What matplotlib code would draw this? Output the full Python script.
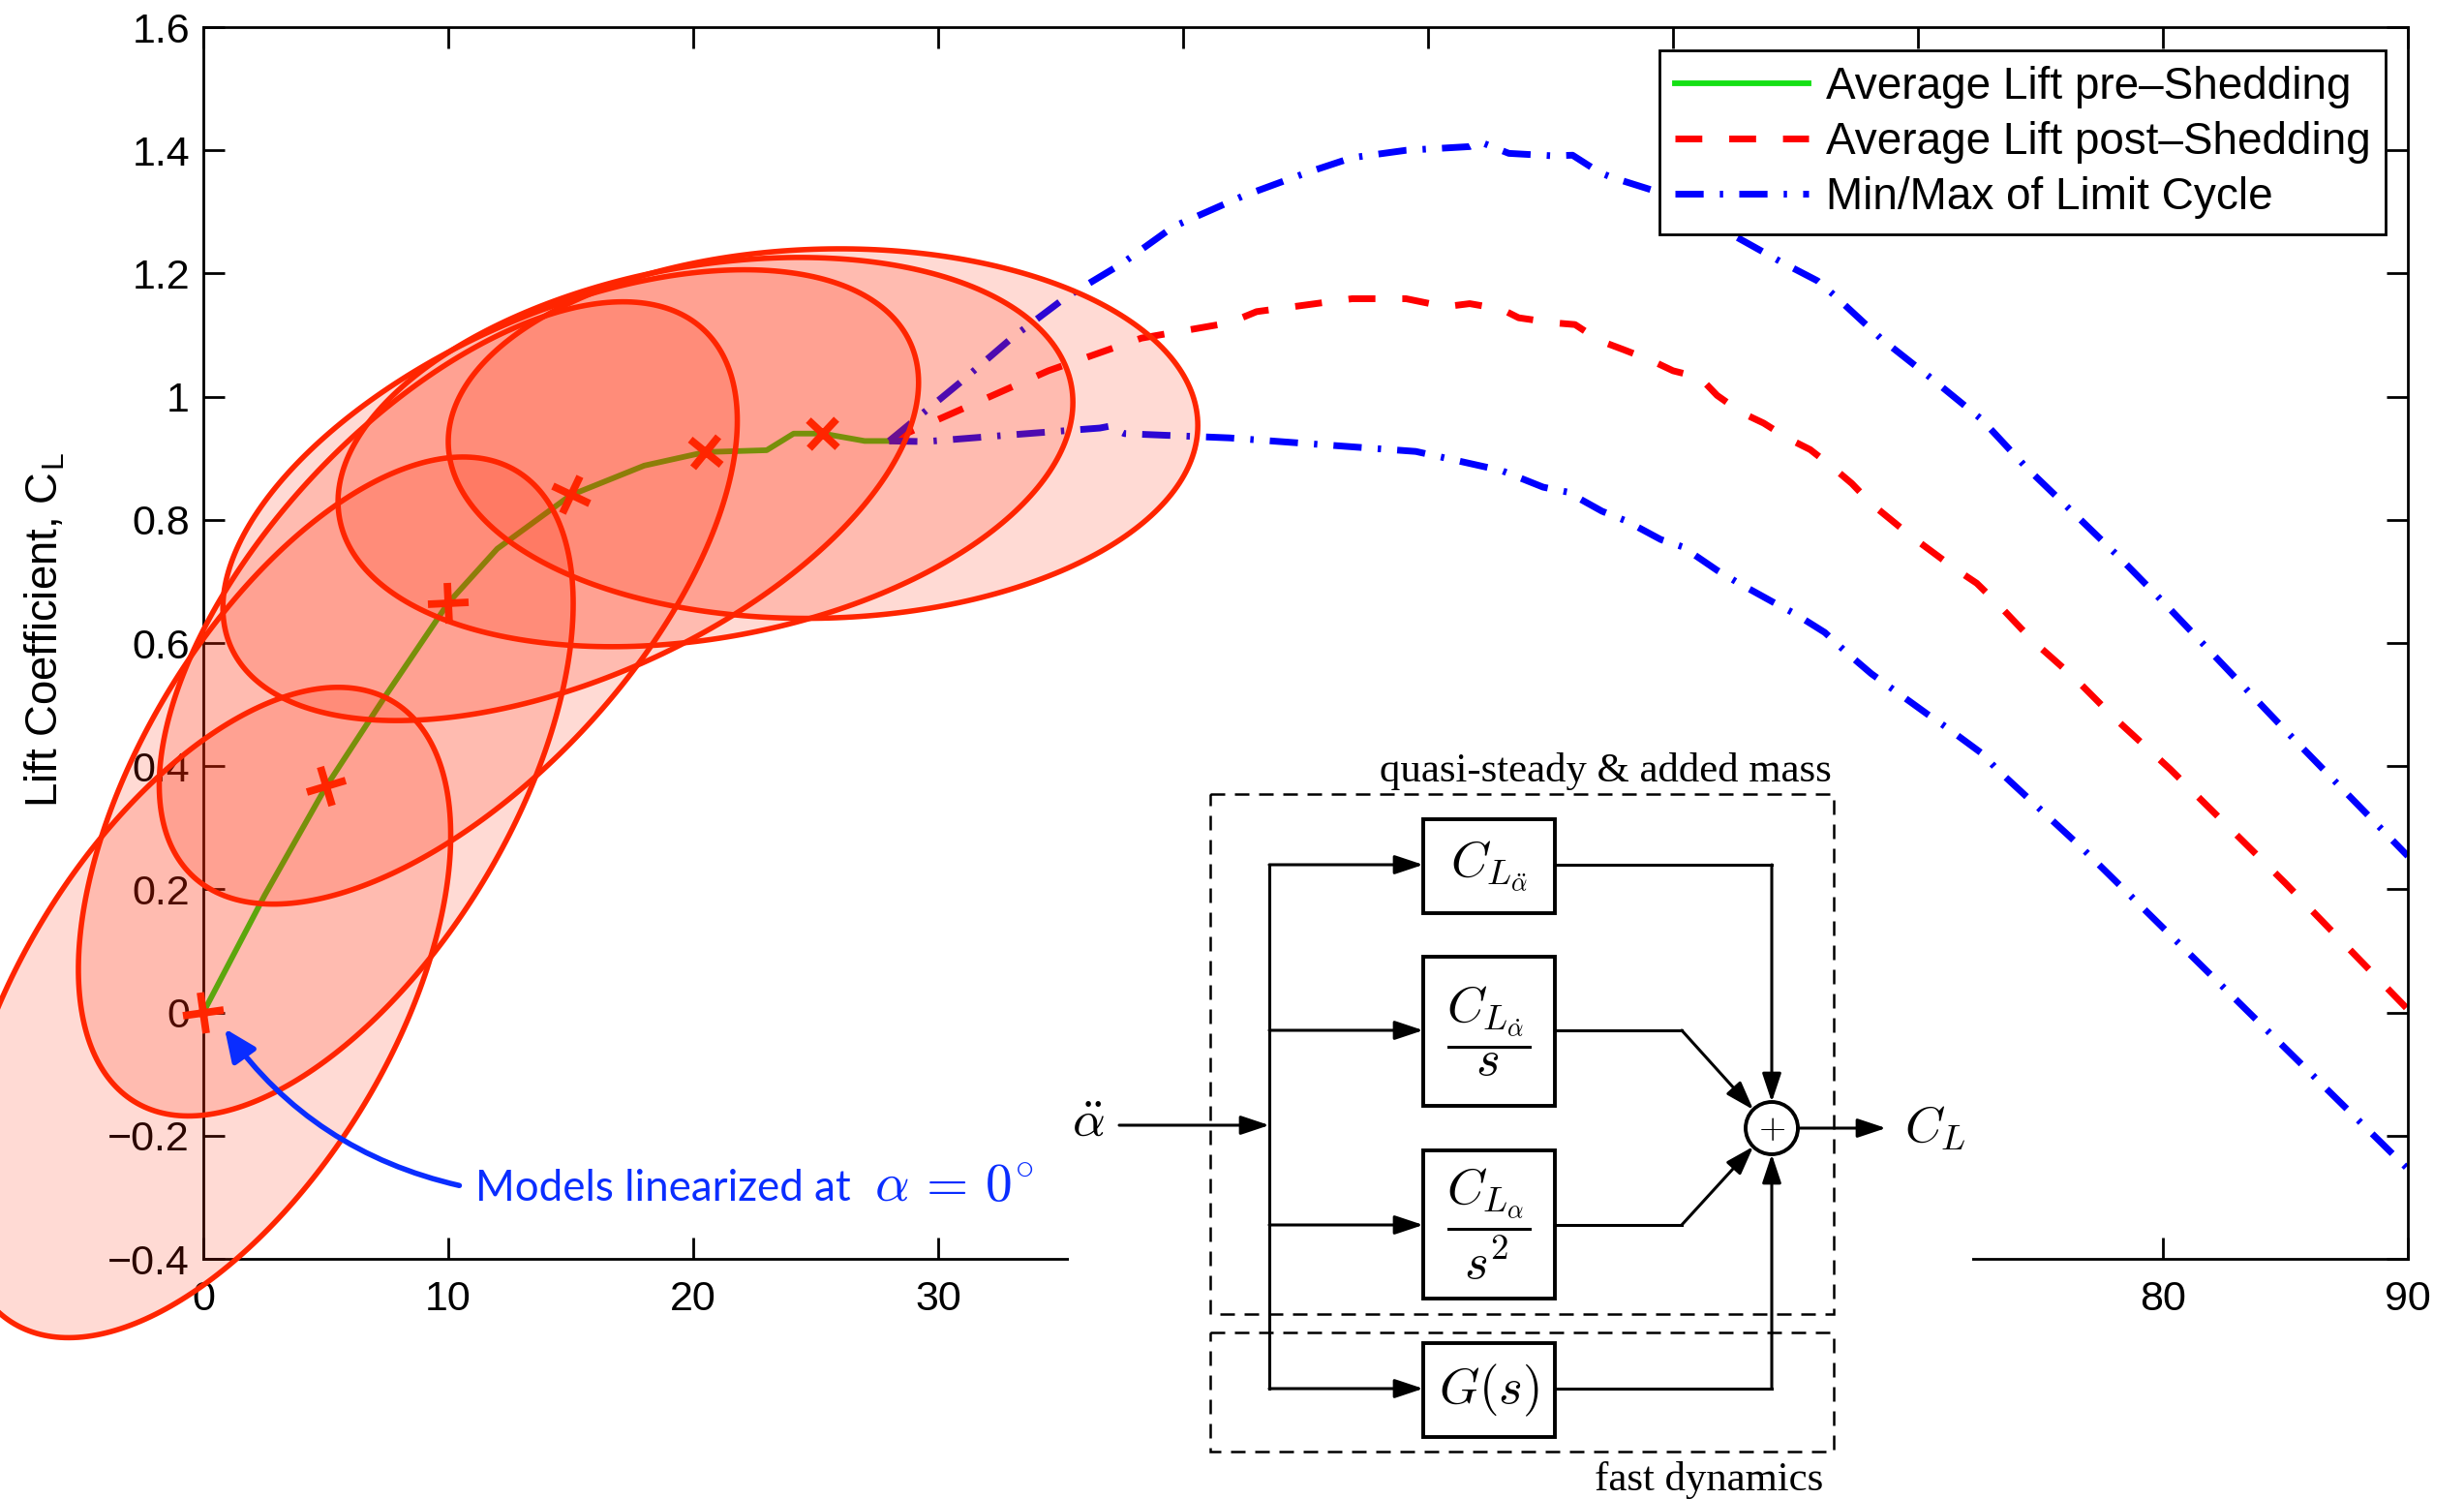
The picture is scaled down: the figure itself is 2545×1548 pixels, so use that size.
import numpy as np
import matplotlib
matplotlib.use("Agg")
import matplotlib.pyplot as plt
from matplotlib.markers import MarkerStyle
from matplotlib.transforms import Affine2D
from matplotlib.patches import Polygon, Rectangle, Circle

plt.rcParams['font.family'] = ['Liberation Sans', 'DejaVu Sans']
plt.rcParams['mathtext.fontset'] = 'cm'

# --- DATA ---
# average lift before shedding (green)
alpha_pre = [0, 2.5, 5, 7.4, 10, 12, 15, 18, 20.5, 23, 24.1, 25.3, 27, 28]
cl_pre = [0, 0.19, 0.366, 0.512, 0.665, 0.753, 0.84, 0.888, 0.91, 0.913, 0.94, 0.94, 0.928, 0.928]

# average lift after shedding (red dashed)
alpha_post = [28, 30.75, 34.5, 38.3, 41.9, 43, 46.9, 49.1, 50.7, 51.7, 53.0, 53.7, 55.1, 56.0,
              57.0, 58.0, 59.1, 60.0, 61.1, 61.8, 62.8, 63.7, 64.7, 65.6, 66.5, 67.3, 68.1,
              69.7, 71.5, 72.4, 73.2, 74.7, 76.4, 78.0, 80.3, 85, 90]
cl_post = [0.928, 0.976, 1.042, 1.095, 1.12, 1.138, 1.159, 1.159, 1.146, 1.151, 1.142, 1.128, 1.120,
           1.117, 1.091, 1.076, 1.059, 1.042, 1.031, 1.002, 0.974, 0.957, 0.932, 0.914, 0.886,
           0.859, 0.826, 0.774, 0.721, 0.697, 0.666, 0.603, 0.543, 0.479, 0.395, 0.21, 0.005]

# limit cycle max / min (blue dash-dot)
alpha_max = [28, 30.9, 33.0, 35.2, 37.5, 39.6, 42.4, 45, 46.9, 49.1, 51.7, 52.1, 53.3, 55.1, 55.9,
             57.0, 57.5, 59.1, 62.1, 64.4, 65.9, 66.6, 68.5, 70.6, 72.6, 74.4, 76.2, 78.2, 80.1,
             85.1, 90]
cl_max = [0.928, 1.023, 1.095, 1.161, 1.216, 1.276, 1.325, 1.363, 1.388, 1.40, 1.406, 1.414, 1.395,
          1.391, 1.392, 1.364, 1.356, 1.336, 1.270, 1.219, 1.188, 1.164, 1.094, 1.028, 0.963,
          0.886, 0.817, 0.740, 0.663, 0.454, 0.254]
alpha_min = [28, 29.5, 33.0, 36.6, 37.0, 37.6, 41.9, 45, 49.5, 53.0, 54.7, 55.7, 57.1, 58.1, 59.5,
             60.4, 61.8, 62.6, 64.1, 65.0, 66.2, 67.1, 68.1, 70.4, 71.2, 72.6, 73.2, 76.7, 90]
cl_min = [0.928, 0.927, 0.938, 0.949, 0.952, 0.940, 0.933, 0.924, 0.911, 0.880, 0.853, 0.845, 0.814,
          0.798, 0.768, 0.756, 0.718, 0.699, 0.666, 0.647, 0.617, 0.584, 0.550, 0.484, 0.462,
          0.421, 0.396, 0.267, -0.254]

# linearization points and their validity ellipses
lin_alpha = [0, 5, 10, 15, 20.5, 25.3]
lin_cl = [0, 0.367, 0.665, 0.84, 0.91, 0.94]
ell_half_w = [10.1, 10.1, 11.8, 14.2, 15.0, 15.3]
ell_half_h = [0.528, 0.535, 0.489, 0.366, 0.316, 0.30]
ell_corr = [0.545, 0.555, 0.605, 0.50, 0.255, 0.044]
cross_angle = [9, 17, 3, -25, -38, -43]

xticks = [0, 10, 20, 30, 40, 50, 60, 70, 80, 90]
yticks = [-0.4, -0.2, 0, 0.2, 0.4, 0.6, 0.8, 1.0, 1.2, 1.4, 1.6]
ytick_labels = ['\u22120.4', '\u22120.2', '0', '0.2', '0.4', '0.6', '0.8', '1', '1.2', '1.4', '1.6']

legend_labels = ['Average Lift pre\u2013Shedding', 'Average Lift post\u2013Shedding',
                 'Min/Max of Limit Cycle']

RED = '#FF2500'
BLUE_TXT = '#0A2DFF'
DASHDOT = (4.2, 2.4, 0.5, 2.4)

fig = plt.figure(figsize=(12.725, 7.74), dpi=200)
ax = fig.add_axes([210 / 2545, 248 / 1548, 2277 / 2545, 1272 / 1548])

# --- curves ---
l1, = ax.plot(alpha_pre, cl_pre, color='#14E014', lw=2.1, zorder=2)
l2, = ax.plot(alpha_post, cl_post, color='#FF0000', lw=2.5, dashes=(4.0, 4.0), zorder=2)
l3, = ax.plot(alpha_max, cl_max, color='#0000FF', lw=2.5, dashes=DASHDOT, zorder=2)
ax.plot(alpha_min, cl_min, color='#0000FF', lw=2.5, dashes=DASHDOT, zorder=2)

# --- ellipses (drawn over axis, not clipped) ---
t = np.linspace(0, 2 * np.pi, 300)
for cx, cy, hw, hh, r in zip(lin_alpha, lin_cl, ell_half_w, ell_half_h, ell_corr):
    ex = cx + hw * np.cos(t)
    ey = cy + hh * (r * np.cos(t) + np.sqrt(1 - r ** 2) * np.sin(t))
    poly = Polygon(np.column_stack([ex, ey]), closed=True,
                   facecolor=(1.0, 0.15, 0.0, 0.17), edgecolor=RED, lw=2.0,
                   clip_on=False, zorder=4)
    ax.add_patch(poly)

for x, y, a in zip(lin_alpha, lin_cl, cross_angle):
    m = MarkerStyle('+', transform=Affine2D().rotate_deg(a))
    ax.plot([x], [y], marker=m, ms=15, mew=2.8, color=RED, ls='none',
            clip_on=False, zorder=5)

# --- axes styling ---
ax.set_xlim(0, 90)
ax.set_ylim(-0.4, 1.6)
ax.set_xticks(xticks)
ax.set_xticklabels([str(v) for v in xticks])
ax.set_yticks(yticks)
ax.set_yticklabels(ytick_labels)
ax.tick_params(direction='in', length=8, width=1, labelsize=15.5, top=True, right=True)
ax.tick_params(axis='x', pad=8)
ax.tick_params(axis='y', pad=5)
for s in ax.spines.values():
    s.set_linewidth(1.0)
ax.set_ylabel('Lift Coefficient, C$_{\\mathregular{L}}$', fontsize=16.4)
ax.yaxis.set_label_coords(-0.062, 0.511)

leg = ax.legend([l1, l2, l3], legend_labels, loc='upper right', bbox_to_anchor=(0.990, 0.981),
                borderaxespad=0, fontsize=16.5, fancybox=False, framealpha=1, edgecolor='k',
                handlelength=3.0, handletextpad=0.4, labelspacing=0.29, borderpad=0.34)
leg.get_frame().set_linewidth(1.0)
leg.set_zorder(8)

ax.annotate('Models linearized at', xy=(0.87, -0.026), xytext=(11.1, -0.306),
            ha='left', va='baseline', color=BLUE_TXT, fontsize=15.8, family=['Lato', 'DejaVu Sans'],
            zorder=7, annotation_clip=False,
            arrowprops=dict(arrowstyle='-|>,head_length=0.5,head_width=0.22', color=BLUE_TXT, lw=2.0,
                            connectionstyle='arc3,rad=-0.2', relpos=(0, 0.5),
                            shrinkA=4, shrinkB=0, mutation_scale=20))
ax.text(27.4, -0.306, r'$\alpha\,=\,0^{\!\circ}$', ha='left', va='baseline', color=BLUE_TXT,
        fontsize=20, zorder=7)

# --- block diagram inset (local coordinates in pixels of the figure) ---
ins = fig.add_axes([1104 / 2545, 0, 933 / 2545, 772 / 1548], zorder=5)
ins.set_facecolor('white')
ins.set_xlim(0, 933)
ins.set_ylim(772, 0)
ins.set_xticks([])
ins.set_yticks([])
for s in ins.spines.values():
    s.set_visible(False)

serif = ['Liberation Serif', 'DejaVu Serif']
ins.text(554, 21, 'quasi-steady & added mass', ha='center', va='center', fontsize=15.4, family=serif)
ins.text(661, 752, 'fast dynamics', ha='center', va='center', fontsize=15.4, family=serif)
ins.add_patch(Rectangle((146, 44), 644, 537, fill=False, lw=0.9, ls=(0, (6, 4))))
ins.add_patch(Rectangle((146, 600), 644, 123, fill=False, lw=0.9, ls=(0, (6, 4))))

block_top = [70, 212, 412, 611]
block_h = [97, 154, 153, 97]
block_mid = [117, 288, 489, 658]
block_txt = [r'$C_{L_{\ddot{\alpha}}}$', r'$\dfrac{C_{L_{\dot{\alpha}}}}{s}$',
             r'$\dfrac{C_{L_{\alpha}}}{s^2}$', r'$G(s)$']
bx0, bx1 = 366, 502
for top, h, mid, txt in zip(block_top, block_h, block_mid, block_txt):
    ins.add_patch(Rectangle((bx0, top), bx1 - bx0, h, fill=False, lw=1.4))
    ins.text((bx0 + bx1) / 2, top + h / 2, txt, ha='center', va='center', fontsize=19)

arr = dict(arrowstyle='-|>,head_length=0.45,head_width=0.15', color='k', lw=1.1,
           shrinkA=0, shrinkB=0, mutation_scale=20)


def arrow(p0, p1):
    ins.annotate('', xy=p1, xytext=p0, arrowprops=arr)


jx = 207
ins.plot([jx, jx], [block_mid[0], block_mid[3]], color='k', lw=1.1)
arrow((52, 386), (jx, 386))
ins.text(20, 384, r'$\ddot{\alpha}$', ha='center', va='center', fontsize=19)
for mid in block_mid:
    arrow((jx, mid), (bx0, mid))

sx, sy, sr = 726, 389, 27
ins.add_patch(Circle((sx, sy), sr, fill=False, lw=1.4))
ins.text(sx, sy, '$+$', ha='center', va='center', fontsize=13)

ins.plot([bx1, sx], [block_mid[0], block_mid[0]], color='k', lw=1.1)
arrow((sx, block_mid[0]), (sx, sy - sr))
ins.plot([bx1, 633], [block_mid[1], block_mid[1]], color='k', lw=1.1)
arrow((633, block_mid[1]), (sx - 19, sy - 19))
ins.plot([bx1, 633], [block_mid[2], block_mid[2]], color='k', lw=1.1)
arrow((633, block_mid[2]), (sx - 19, sy + 19))
ins.plot([bx1, sx], [block_mid[3], block_mid[3]], color='k', lw=1.1)
arrow((sx, block_mid[3]), (sx, sy + sr))
arrow((sx + sr, sy), (844, sy))
ins.text(895, sy, r'$C_L$', ha='center', va='center', fontsize=19)

fig.savefig('out.png', dpi=200)
